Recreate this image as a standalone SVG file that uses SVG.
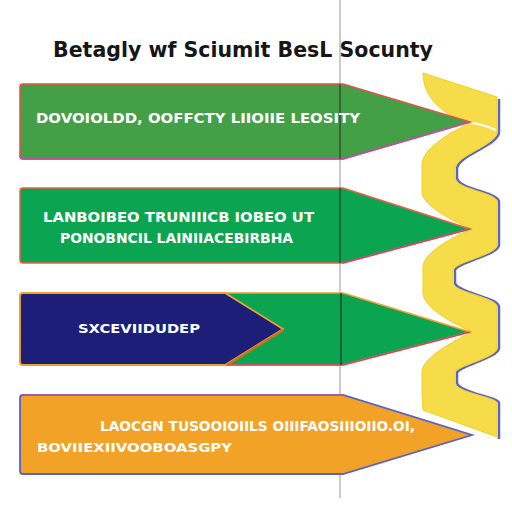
<svg xmlns="http://www.w3.org/2000/svg" width="512" height="512" viewBox="0 0 512 512">
<style>
.t{font-family:"DejaVu Sans","Liberation Sans",sans-serif;font-weight:bold;fill:#fff;}
.title{font-family:"DejaVu Sans","Liberation Sans",sans-serif;font-weight:bold;fill:#161616;font-size:22px;}
</style>
<rect width="512" height="512" fill="#ffffff"/>
<line x1="340" y1="0" x2="340" y2="498" stroke="#a8a8a8" stroke-width="1.2"/>
<g id="title"><text class="title" x="53" y="57" textLength="380" lengthAdjust="spacingAndGlyphs">Betagly wf Sciumit BesL Socunty</text></g>
<g id="wave">
<path d="M499,99 L499,132 C499,145 459,155 457,168 L457,178 C459,190 499,192 499,202 L499,245 C499,255 457,262 455,270 L455,283 C457,293 499,297 499,307 L499,348 C499,358 457,366 457,373 L457,383 C459,393 499,397 499,403 L499,439" fill="none" stroke="#5b63c9" stroke-width="2.5"/>
<path d="M423,73 L497,97 L497,132 C497,145 457,155 455,168 L455,178 C457,190 497,192 497,202 L497,245 C497,255 455,262 453,270 L453,283 C455,293 497,297 497,307 L497,348 C497,358 455,366 455,373 L455,383 C457,393 497,397 497,403 L497,437 L423,410 L422,395 L422,372 C422,360 445,345 472,332 C445,320 423,305 423,293 L423,267 C423,255 445,240 472,229 C445,218 422,203 422,192 L422,165 C422,150 445,135 470,123 C440,115 423,95 423,73 Z" fill="#f5dc48" stroke="#f2d21e" stroke-width="1"/>
<path d="M471,123 Q482,124 496,130" fill="none" stroke="#ffffff" stroke-width="2"/>
</g>
<g id="arrow1">
<path d="M20,87 Q20,84 23,84 L343,84 L470,122 L343,159 L23,159 Q20,159 20,156 Z" fill="#44a047" stroke="#e0534a" stroke-width="1.5"/>
<path d="M20,156 Q20,159 23,159 L343,159 L470,122" fill="none" stroke="#bb4db5" stroke-width="1.5"/>
<line x1="340" y1="84" x2="340" y2="159" stroke="#2a2a2a" stroke-width="1"/>
<text class="t" x="36" y="123" font-size="14" textLength="324" lengthAdjust="spacingAndGlyphs">DOVOIOLDD, OOFFCTY LIIOIIE LEOSITY</text>
</g>
<g id="arrow2">
<path d="M20,191 Q20,188 23,188 L343,188 L470,229 L343,263 L23,263 Q20,263 20,260 Z" fill="#0ba551" stroke="#e9604a" stroke-width="1.5"/>
<path d="M343,263 L470,229" fill="none" stroke="#d9416b" stroke-width="1.5"/>
<line x1="340" y1="188" x2="340" y2="263" stroke="#2a2a2a" stroke-width="1"/>
<text class="t" x="43" y="222" font-size="14" textLength="271" lengthAdjust="spacingAndGlyphs">LANBOIBEO TRUNIIICB IOBEO UT</text>
<text class="t" x="60" y="243" font-size="14" textLength="233" lengthAdjust="spacingAndGlyphs">PONOBNCIL LAINIIACEBIRBHA</text>
</g>
<g id="arrow3">
<path d="M20,296 Q20,293 23,293 L343,293 L470,332 L343,365 L23,365 Q20,365 20,362 Z" fill="#0ba551" stroke="#f0a030" stroke-width="1.5"/>
<path d="M225,365 L343,365 L470,332" fill="none" stroke="#d9416b" stroke-width="1.5"/>
<path d="M20,296 Q20,293 23,293 L225,293 L283,329 L225,365 L23,365 Q20,365 20,362 Z" fill="#1d1e78" stroke="#f0a030" stroke-width="1.8"/>
<path d="M283,330 L227,365" stroke="#d4701a" stroke-width="2.5" fill="none"/>
<line x1="341" y1="293" x2="341" y2="365" stroke="#1a1a1a" stroke-width="1"/>
<text class="t" x="78" y="333" font-size="12" textLength="122" lengthAdjust="spacingAndGlyphs">SXCEVIIDUDEP</text>
</g>
<g id="arrow4">
<path d="M20,398 Q20,395 23,395 L343,395 L472,435 L343,474 L23,474 Q20,474 20,471 Z" fill="#f3a228" stroke="#5a62c8" stroke-width="1.8"/>
<path d="M23,395 L343,395" stroke="#e8587a" stroke-width="1"/>
<text class="t" x="100" y="431" font-size="14" textLength="315" lengthAdjust="spacingAndGlyphs">LAOCGN TUSOOIOIILS OIIIFAOSIIIOIIO.OI,</text>
<text class="t" x="37" y="452" font-size="12" textLength="195" lengthAdjust="spacingAndGlyphs">BOVIIEXIIVOOBOASGPY</text>
</g>
</svg>
